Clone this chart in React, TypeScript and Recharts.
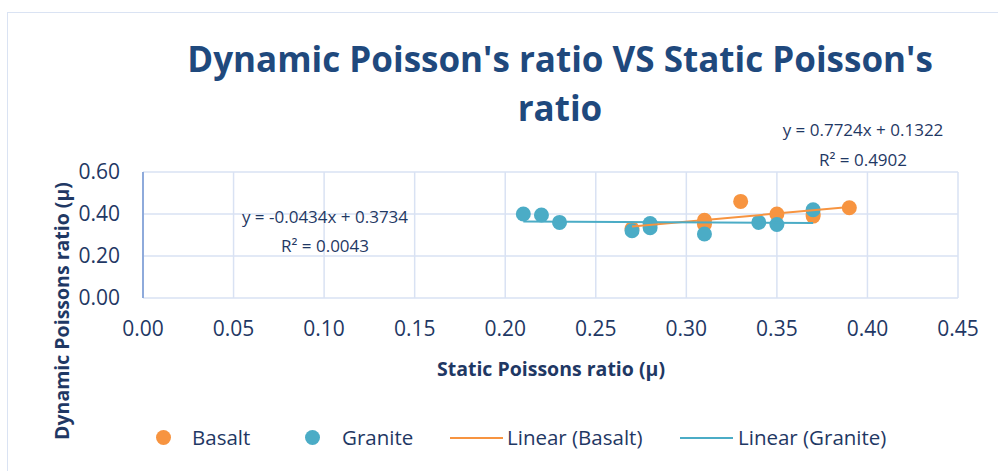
import { ScatterChart, Scatter, XAxis, YAxis, CartesianGrid } from 'recharts'

const basaltX = [0.27, 0.31, 0.31, 0.33, 0.35, 0.37, 0.37, 0.39]
const basaltY = [0.33, 0.37, 0.35, 0.46, 0.40, 0.39, 0.40, 0.43]
const graniteX = [0.21, 0.22, 0.23, 0.27, 0.28, 0.28, 0.31, 0.34, 0.35, 0.37]
const graniteY = [0.40, 0.395, 0.36, 0.32, 0.355, 0.335, 0.305, 0.36, 0.35, 0.42]

// trendline end points
const basaltTrendX = [0.27, 0.39]
const basaltTrendY = [0.341, 0.433]
const graniteTrendX = [0.21, 0.37]
const graniteTrendY = [0.364, 0.357]

const xTicks = [0, 0.05, 0.1, 0.15, 0.2, 0.25, 0.3, 0.35, 0.4, 0.45]
const yTicks = [0, 0.2, 0.4, 0.6]

const zip = (xs: number[], ys: number[]) => xs.map((x, i) => ({ x, y: ys[i] }))

const basalt = zip(basaltX, basaltY)
const granite = zip(graniteX, graniteY)
const basaltTrend = zip(basaltTrendX, basaltTrendY)
const graniteTrend = zip(graniteTrendX, graniteTrendY)

const ORANGE = '#f79440'
const BLUE = '#4bacc6'
const TEXT = '#1f3864'
const FONT = "'Open Sans', sans-serif"

const Dot = (props: any) => {
    const { cx, cy, fill } = props
    if (cx == null || cy == null) return <g />
    return <circle cx={cx} cy={cy} r={7.5} fill={fill} />
}

const abs = (x: number, y: number): React.CSSProperties => ({ position: 'absolute', left: x, top: y })

export default function App() {
    return (
        <div style={{ position: 'absolute', left: 0, top: 0, width: 998, height: 471, background: '#fff', fontFamily: FONT, color: TEXT }}>
            <div style={{ position: 'absolute', left: 7, top: 12, right: 0, bottom: 0, borderLeft: '1.5px solid #dae3f3', borderTop: '1.5px solid #dae3f3' }} />
            <div style={{ position: 'absolute', left: 110, width: 900, top: 34, textAlign: 'center', fontSize: 35, fontWeight: 700, lineHeight: '49px', color: '#1f497d' }}>
                Dynamic Poisson's ratio VS Static Poisson's<br />ratio
            </div>
            <ScatterChart width={998} height={471} margin={{ top: 172, right: 40, bottom: 143, left: 83 }}>
                <CartesianGrid stroke="#d9e2f3" strokeWidth={1.5} />
                <XAxis type="number" dataKey="x" domain={[0, 0.45]} ticks={xTicks} axisLine={false} tickLine={false}
                    tickFormatter={(v: number) => v.toFixed(2)} tick={{ fill: TEXT, fontSize: 21, fontFamily: FONT }} height={30} tickMargin={17} interval={0} />
                <YAxis type="number" dataKey="y" domain={[0, 0.6]} ticks={yTicks} axisLine={{ stroke: '#8eaadb', strokeWidth: 2 }} tickLine={false}
                    tickFormatter={(v: number) => v.toFixed(2)} tick={{ fill: TEXT, fontSize: 21, fontFamily: FONT }} width={60} tickMargin={17} />
                <Scatter name="Basalt" data={basalt} fill={ORANGE} shape={Dot} isAnimationActive={false} />
                <Scatter name="Granite" data={granite} fill={BLUE} shape={Dot} isAnimationActive={false} />
                <Scatter name="Linear (Basalt)" data={basaltTrend} line={{ stroke: ORANGE, strokeWidth: 2 }} shape={() => <g />} isAnimationActive={false} />
                <Scatter name="Linear (Granite)" data={graniteTrend} line={{ stroke: BLUE, strokeWidth: 2 }} shape={() => <g />} isAnimationActive={false} />
            </ScatterChart>
            <div style={{ ...abs(225, 202), width: 200, textAlign: 'center', fontSize: 17, lineHeight: '29px' }}>
                y = -0.0434x + 0.3734<br />R² = 0.0043
            </div>
            <div style={{ ...abs(763, 115), width: 200, textAlign: 'center', fontSize: 17, lineHeight: '30px' }}>
                y = 0.7724x + 0.1322<br />R² = 0.4902
            </div>
            <div style={{ position: 'absolute', left: 61, top: 311, transform: 'translate(-50%, -50%) rotate(-90deg)', whiteSpace: 'nowrap', fontSize: 19.5, fontWeight: 700 }}>
                Dynamic Poissons ratio (μ)
            </div>
            <div style={{ position: 'absolute', left: 551, top: 368, transform: 'translate(-50%, -50%)', whiteSpace: 'nowrap', fontSize: 19.5, fontWeight: 700 }}>
                Static Poissons ratio (μ)
            </div>
            <div style={{ position: 'absolute', left: 0, top: 423, width: 998, height: 28, fontSize: 20.5, lineHeight: '28px' }}>
                <span style={{ position: 'absolute', left: 156, top: 7, width: 15, height: 15, borderRadius: 8, background: ORANGE }} />
                <span style={{ position: 'absolute', left: 192, top: 0 }}>Basalt</span>
                <span style={{ position: 'absolute', left: 305, top: 7, width: 15, height: 15, borderRadius: 8, background: BLUE }} />
                <span style={{ position: 'absolute', left: 342, top: 0 }}>Granite</span>
                <span style={{ position: 'absolute', left: 450, top: 14, width: 53, height: 2, background: ORANGE }} />
                <span style={{ position: 'absolute', left: 507, top: 0 }}>Linear (Basalt)</span>
                <span style={{ position: 'absolute', left: 680, top: 14, width: 53, height: 2, background: BLUE }} />
                <span style={{ position: 'absolute', left: 738, top: 0 }}>Linear (Granite)</span>
            </div>
        </div>
    )
}
